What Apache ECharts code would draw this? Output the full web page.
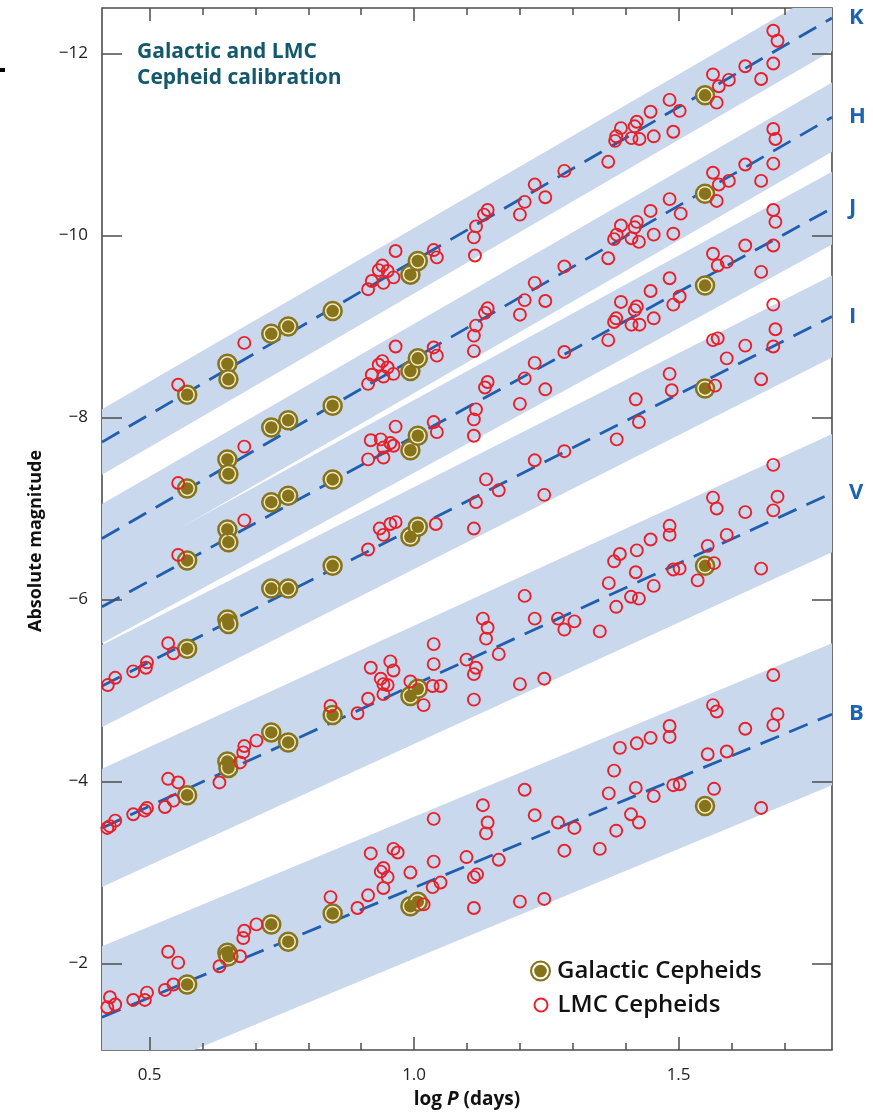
<!DOCTYPE html>
<html>
<head>
<meta charset="utf-8">
<script src="https://cdn.jsdelivr.net/npm/echarts@6/dist/echarts.min.js"></script>
<style>
  html, body { margin: 0; padding: 0; background: #ffffff; }
  #chart { width: 873px; height: 1114px; }
</style>
</head>
<body>
<div id="chart"></div>
<script>
// Period–luminosity relations, log P (days) vs absolute magnitude, per photometric band.
const bandNames = ['K', 'H', 'J', 'I', 'V', 'B'];
// Fitted relation at the two ends of the period range (log P = 0.41 and 1.79)
const fitLogP = [0.41, 1.79];
const fitStart = [-7.73, -6.67, -5.92, -5.05, -3.49, -1.41];
const fitEnd = [-12.39, -11.30, -10.30, -9.11, -7.17, -4.74];
// Half-width of the shaded scatter strip around each relation (mag)
const stripHalfWidth = [0.36, 0.38, 0.40, 0.45, 0.65, 0.78];

// Galactic calibrators: same periods in every band
const galacticLogP = [0.571, 0.647, 0.649, 0.730, 0.762, 0.846, 0.993, 1.007, 1.550];
const galacticK = [-8.25, -8.59, -8.42, -8.92, -9.00, -9.17, -9.57, -9.72, -11.54];
const galacticH = [-7.22, -7.54, -7.38, -7.89, -7.97, -8.13, -8.51, -8.65, -10.46];
const galacticJ = [-6.43, -6.77, -6.63, -7.07, -7.14, -7.32, -7.64, -7.80, -9.45];
const galacticI = [-5.46, -5.78, -5.73, -6.12, -6.12, -6.37, -6.69, -6.80, -8.32];
const galacticV = [-3.85, -4.22, -4.15, -4.54, -4.43, -4.73, -4.94, -5.02, -6.37];
const galacticB = [-1.77, -2.12, -2.08, -2.43, -2.24, -2.55, -2.63, -2.68, -3.73];

// LMC Cepheids, [log P, M] per band
const lmcK = [[0.554,-8.36],[0.679,-8.82],[0.913,-9.41],[0.920,-9.50],[0.942,-9.48],[0.933,-9.62],[0.940,-9.67],[0.950,-9.61],[0.961,-9.54],[0.965,-9.83],[1.037,-9.84],[1.043,-9.76],[1.113,-9.98],[1.115,-9.78],[1.117,-10.10],[1.132,-10.23],[1.139,-10.28],[1.200,-10.23],[1.209,-10.37],[1.228,-10.56],[1.248,-10.42],[1.284,-10.71],[1.367,-10.81],[1.380,-11.04],[1.382,-11.09],[1.391,-11.18],[1.411,-11.07],[1.417,-11.20],[1.421,-11.25],[1.426,-11.06],[1.447,-11.36],[1.453,-11.09],[1.483,-11.49],[1.490,-11.14],[1.502,-11.37],[1.565,-11.77],[1.572,-11.46],[1.576,-11.64],[1.595,-11.71],[1.626,-11.86],[1.656,-11.72],[1.679,-12.25],[1.687,-12.14],[1.679,-11.89]];
const lmcH = [[0.554,-7.28],[0.679,-7.68],[0.913,-8.37],[0.920,-8.47],[0.942,-8.45],[0.933,-8.58],[0.940,-8.62],[0.950,-8.55],[0.961,-8.48],[0.965,-8.78],[1.037,-8.77],[1.043,-8.68],[1.113,-8.90],[1.113,-8.73],[1.117,-9.01],[1.134,-9.15],[1.139,-9.20],[1.200,-9.13],[1.209,-9.29],[1.228,-9.48],[1.248,-9.28],[1.284,-9.66],[1.367,-9.75],[1.378,-9.96],[1.383,-10.01],[1.391,-10.11],[1.411,-9.97],[1.417,-10.09],[1.421,-10.15],[1.425,-9.93],[1.447,-10.27],[1.453,-10.01],[1.483,-10.40],[1.490,-10.02],[1.504,-10.24],[1.565,-10.69],[1.572,-10.38],[1.576,-10.56],[1.595,-10.60],[1.626,-10.78],[1.656,-10.60],[1.679,-11.17],[1.683,-11.06],[1.679,-10.79]];
const lmcJ = [[0.554,-6.49],[0.679,-6.87],[0.913,-7.54],[0.918,-7.75],[0.937,-7.76],[0.942,-7.67],[0.955,-7.72],[0.961,-7.69],[0.942,-7.56],[0.965,-7.90],[1.037,-7.95],[1.043,-7.84],[1.113,-7.98],[1.113,-7.80],[1.117,-8.09],[1.134,-8.33],[1.139,-8.39],[1.200,-8.15],[1.209,-8.43],[1.228,-8.60],[1.248,-8.31],[1.284,-8.72],[1.367,-8.85],[1.378,-9.05],[1.382,-9.09],[1.391,-9.27],[1.411,-9.02],[1.417,-9.18],[1.421,-9.22],[1.426,-9.02],[1.447,-9.39],[1.453,-9.09],[1.483,-9.53],[1.490,-9.24],[1.502,-9.33],[1.565,-9.80],[1.574,-9.67],[1.591,-9.71],[1.626,-9.89],[1.656,-9.60],[1.679,-10.28],[1.683,-10.15],[1.679,-9.89]];
const lmcI = [[0.421,-5.06],[0.435,-5.14],[0.469,-5.21],[0.493,-5.25],[0.495,-5.31],[0.535,-5.52],[0.545,-5.41],[0.913,-6.55],[0.935,-6.78],[0.942,-6.71],[0.955,-6.83],[0.965,-6.85],[1.041,-6.83],[1.113,-6.78],[1.117,-7.07],[1.136,-7.32],[1.160,-7.20],[1.228,-7.53],[1.246,-7.15],[1.284,-7.63],[1.383,-7.76],[1.419,-8.20],[1.425,-7.95],[1.483,-8.48],[1.487,-8.30],[1.565,-8.85],[1.574,-8.87],[1.569,-8.35],[1.591,-8.65],[1.626,-8.79],[1.656,-8.42],[1.679,-9.24],[1.683,-8.97],[1.679,-8.78]];
const lmcV = [[0.420,-3.49],[0.425,-3.51],[0.435,-3.57],[0.469,-3.64],[0.491,-3.68],[0.495,-3.71],[0.529,-3.72],[0.535,-4.03],[0.545,-3.79],[0.554,-3.99],[0.632,-3.99],[0.671,-4.21],[0.677,-4.32],[0.679,-4.39],[0.702,-4.45],[0.842,-4.83],[0.893,-4.75],[0.913,-4.91],[0.918,-5.25],[0.937,-5.13],[0.942,-5.07],[0.950,-5.06],[0.942,-4.96],[0.955,-5.32],[0.961,-5.22],[0.993,-5.10],[1.018,-4.84],[1.035,-5.05],[1.050,-5.05],[1.037,-5.51],[1.037,-5.29],[1.099,-5.34],[1.113,-5.18],[1.117,-5.25],[1.113,-4.90],[1.130,-5.79],[1.136,-5.57],[1.139,-5.69],[1.160,-5.40],[1.200,-5.07],[1.209,-6.04],[1.228,-5.79],[1.246,-5.13],[1.272,-5.79],[1.284,-5.67],[1.303,-5.76],[1.351,-5.65],[1.368,-6.18],[1.378,-6.42],[1.382,-5.92],[1.389,-6.50],[1.410,-6.03],[1.425,-6.01],[1.419,-6.30],[1.421,-6.54],[1.447,-6.66],[1.453,-6.15],[1.483,-6.81],[1.483,-6.71],[1.490,-6.33],[1.502,-6.34],[1.536,-6.21],[1.555,-6.59],[1.567,-6.40],[1.565,-7.12],[1.572,-7.00],[1.591,-6.71],[1.626,-6.96],[1.656,-6.34],[1.679,-7.48],[1.687,-7.13],[1.679,-6.98]];
const lmcB = [[0.420,-1.52],[0.425,-1.63],[0.435,-1.55],[0.469,-1.60],[0.491,-1.60],[0.495,-1.68],[0.529,-1.71],[0.535,-2.13],[0.545,-1.77],[0.554,-2.01],[0.632,-1.97],[0.671,-2.08],[0.677,-2.28],[0.679,-2.36],[0.702,-2.43],[0.842,-2.73],[0.893,-2.61],[0.913,-2.75],[0.918,-3.21],[0.937,-3.01],[0.942,-3.05],[0.950,-2.95],[0.942,-2.83],[0.961,-3.26],[0.969,-3.22],[0.993,-3.00],[1.018,-2.65],[1.035,-2.84],[1.050,-2.89],[1.037,-3.59],[1.037,-3.12],[1.099,-3.17],[1.113,-2.95],[1.119,-2.98],[1.113,-2.61],[1.130,-3.74],[1.136,-3.43],[1.139,-3.55],[1.160,-3.14],[1.200,-2.68],[1.209,-3.91],[1.228,-3.63],[1.246,-2.71],[1.272,-3.55],[1.284,-3.24],[1.303,-3.49],[1.351,-3.26],[1.368,-3.87],[1.378,-4.12],[1.382,-3.46],[1.389,-4.37],[1.410,-3.64],[1.419,-3.93],[1.421,-4.42],[1.425,-3.55],[1.447,-4.48],[1.453,-3.84],[1.483,-4.61],[1.483,-4.49],[1.490,-3.96],[1.502,-3.97],[1.555,-4.30],[1.565,-4.84],[1.567,-3.92],[1.572,-4.77],[1.591,-4.33],[1.626,-4.58],[1.656,-3.71],[1.679,-5.17],[1.687,-4.74],[1.679,-4.62]];

// Axis ranges and ticks
const xRange = [0.41, 1.79];
const yRange = [-12.5, -1.05];
const xMajorTicks = [0.5, 1.0, 1.5];
const xMinorTicks = [0.6, 0.7, 0.8, 0.9, 1.1, 1.2, 1.3, 1.4, 1.6, 1.7];
const yTicks = [-12, -10, -8, -6, -4, -2];

const FONT = '"Open Sans", "Noto Sans", sans-serif';
const AXIS_COLOR = '#4d4d4d';
const STRIP_COLOR = '#cad8ee';
const FIT_COLOR = '#1f5fae';
const LABEL_BLUE = '#1d63b4';
const LMC_RED = '#e8202a';
const OLIVE = '#86731a';
const CREAM = '#eee8c6';

const galacticByBand = [galacticK, galacticH, galacticJ, galacticI, galacticV, galacticB];
const lmcByBand = [lmcK, lmcH, lmcJ, lmcI, lmcV, lmcB];

const galacticData = [];
galacticByBand.forEach(mags => mags.forEach((m, i) => galacticData.push([galacticLogP[i], m])));
const lmcData = [];
lmcByBand.forEach(pts => pts.forEach(p => lmcData.push(p)));

// Ring-and-dot marker used for the Galactic calibrators in the legend
const ringIcon = 'path://M0,-10A10,10 0 1,1 0,10A10,10 0 1,1 0,-10Z' +
  'M0,-8A8,8 0 1,0 0,8A8,8 0 1,0 0,-8Z' +
  'M0,-6A6,6 0 1,1 0,6A6,6 0 1,1 0,-6Z';

const stripSeries = {
  type: 'custom',
  name: 'strips',
  silent: true,
  clip: true,
  z: 1,
  data: bandNames.map((b, i) => [fitLogP[0], fitStart[i], fitLogP[1], fitEnd[i], stripHalfWidth[i]]),
  renderItem: (params, api) => {
    const x0 = api.value(0), y0 = api.value(1), x1 = api.value(2), y1 = api.value(3), h = api.value(4);
    const pts = [[x0, y0 - h], [x1, y1 - h], [x1, y1 + h], [x0, y0 + h]].map(p => api.coord(p));
    const cs = params.coordSys;
    return {
      type: 'group',
      clipPath: { type: 'rect', shape: { x: cs.x, y: cs.y, width: cs.width, height: cs.height } },
      children: [{ type: 'polygon', shape: { points: pts }, style: { fill: STRIP_COLOR } }]
    };
  }
};

const fitSeries = bandNames.map((b, i) => ({
  type: 'line',
  name: 'fit ' + b,
  data: [[fitLogP[0], fitStart[i]], [fitLogP[1], fitEnd[i]]],
  symbol: 'none',
  silent: true,
  z: 2,
  lineStyle: { color: FIT_COLOR, width: 2.8, type: [20, 11] },
  endLabel: {
    show: true,
    formatter: b,
    distance: 17,
    color: LABEL_BLUE,
    fontFamily: FONT,
    fontWeight: 'bold',
    fontSize: 22
  }
}));

const option = {
  backgroundColor: '#ffffff',
  animation: false,
  title: {
    text: 'Galactic and LMC\nCepheid calibration',
    left: 137,
    top: 39,
    padding: 0,
    textStyle: { fontFamily: FONT, fontWeight: 'bold', fontSize: 21, lineHeight: 26, color: '#13586b' }
  },
  grid: {
    left: 102, right: 41, top: 8, bottom: 58,
    show: true, borderColor: AXIS_COLOR, borderWidth: 1.6, backgroundColor: 'transparent'
  },
  legend: [
    {
      data: [{ name: 'Galactic Cepheids', icon: ringIcon }],
      left: 530, top: 959, itemWidth: 21, itemHeight: 21, padding: 0,
      textStyle: { fontFamily: FONT, fontSize: 24, fontWeight: 600, color: '#111', padding: [0, 0, 0, 1] }
    },
    {
      data: [{ name: 'LMC Cepheids' }],
      left: 533.5, top: 993, itemWidth: 13, itemHeight: 13, padding: 0,
      textStyle: { fontFamily: FONT, fontSize: 24, fontWeight: 600, color: '#111', padding: [0, 0, 0, 5] }
    }
  ],
  xAxis: [
    {
      type: 'value', min: xRange[0], max: xRange[1], position: 'bottom', z: 10,
      name: '{b|log }{i|P}{b| (days)}', nameLocation: 'middle', nameGap: 40,
      nameTextStyle: {
        rich: {
          b: { fontFamily: FONT, fontWeight: 'bold', fontSize: 19, color: '#111' },
          i: { fontFamily: FONT, fontWeight: 'bold', fontStyle: 'italic', fontSize: 19, color: '#111' }
        }
      },
      axisLine: { show: false, onZero: false },
      splitLine: { show: false },
      axisTick: { show: true, inside: true, length: 13, customValues: xMajorTicks, lineStyle: { color: AXIS_COLOR, width: 1.5 } },
      axisLabel: { show: true, customValues: xMajorTicks, formatter: v => v.toFixed(1), margin: 17, fontFamily: FONT, fontSize: 17, color: '#222' }
    },
    {
      type: 'value', min: xRange[0], max: xRange[1], position: 'bottom', z: 10,
      axisLine: { show: false, onZero: false }, splitLine: { show: false }, axisLabel: { show: false },
      axisTick: { show: true, inside: true, length: 7, customValues: xMinorTicks, lineStyle: { color: AXIS_COLOR, width: 1.5 } }
    },
    {
      type: 'value', min: xRange[0], max: xRange[1], position: 'top', z: 10,
      axisLine: { show: false, onZero: false }, splitLine: { show: false }, axisLabel: { show: false },
      axisTick: { show: true, inside: true, length: 13, customValues: xMajorTicks, lineStyle: { color: AXIS_COLOR, width: 1.5 } }
    },
    {
      type: 'value', min: xRange[0], max: xRange[1], position: 'top', z: 10,
      axisLine: { show: false, onZero: false }, splitLine: { show: false }, axisLabel: { show: false },
      axisTick: { show: true, inside: true, length: 7, customValues: xMinorTicks, lineStyle: { color: AXIS_COLOR, width: 1.5 } }
    }
  ],
  yAxis: [
    {
      type: 'value', min: yRange[0], max: yRange[1], inverse: true, position: 'left', z: 10,
      name: 'Absolute magnitude', nameLocation: 'middle', nameGap: 57, nameRotate: 90,
      nameTextStyle: { fontFamily: FONT, fontWeight: 'bold', fontSize: 18, color: '#111', padding: [0, 24, 0, 0] },
      axisLine: { show: false, onZero: false },
      splitLine: { show: false },
      axisTick: { show: true, inside: true, length: 20, customValues: yTicks, lineStyle: { color: AXIS_COLOR, width: 1.5 } },
      axisLabel: { show: true, customValues: yTicks, formatter: v => '\u2212' + Math.abs(v), margin: 14, fontFamily: FONT, fontSize: 17, color: '#222' }
    },
    {
      type: 'value', min: yRange[0], max: yRange[1], inverse: true, position: 'right', z: 10,
      axisLine: { show: false, onZero: false }, splitLine: { show: false }, axisLabel: { show: false },
      axisTick: { show: true, inside: true, length: 20, customValues: yTicks, lineStyle: { color: AXIS_COLOR, width: 1.5 } }
    }
  ],
  series: [
    stripSeries,
    ...fitSeries,
    {
      type: 'scatter',
      name: 'galactic ring',
      data: galacticData,
      symbol: 'circle',
      symbolSize: 18,
      silent: true,
      z: 3,
      itemStyle: { color: CREAM, borderColor: OLIVE, borderWidth: 2.5, opacity: 1 }
    },
    {
      type: 'scatter',
      name: 'Galactic Cepheids',
      data: galacticData,
      symbol: 'circle',
      symbolSize: 12.5,
      z: 4,
      itemStyle: { color: OLIVE, opacity: 1 }
    },
    {
      type: 'scatter',
      name: 'LMC Cepheids',
      data: lmcData,
      symbol: 'circle',
      symbolSize: 12,
      z: 5,
      itemStyle: { color: 'rgba(255,255,255,0)', borderColor: LMC_RED, borderWidth: 1.9, opacity: 1 }
    }
  ],
  graphic: [
    { type: 'rect', left: 0, top: 68, shape: { width: 5, height: 4 }, style: { fill: '#000' }, silent: true }
  ]
};

const chart = echarts.init(document.getElementById('chart'), null, { renderer: 'canvas' });
chart.setOption(option);
</script>
</body>
</html>
